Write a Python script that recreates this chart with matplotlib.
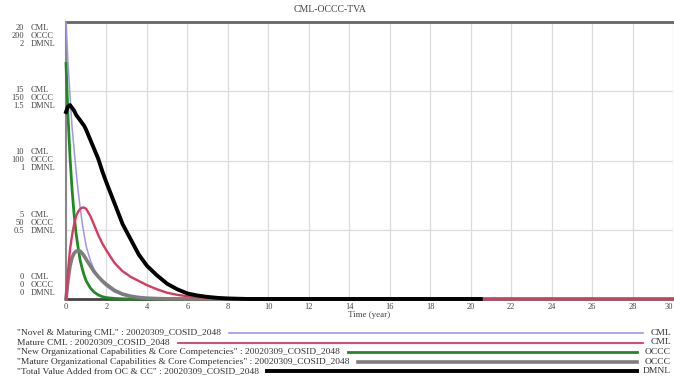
import matplotlib
matplotlib.use("Agg")
import matplotlib.pyplot as plt
from matplotlib.lines import Line2D

# Simulation output (Time in years)
years = [0, 0.1, 0.2, 0.3, 0.4, 0.5, 0.6, 0.7, 0.8, 0.9,
         1.0, 1.2, 1.4, 1.6, 1.8, 2.0, 2.4, 2.8, 3.2, 3.6,
         4.0, 4.5, 5.0, 5.5, 6.0, 6.5, 7.0, 7.5, 8.0, 9.0,
         10, 12, 14, 16, 18, 20, 20.5, 22, 24, 26, 28, 30]

# Novel & Maturing CML (CML)
novel_maturing_cml = [20, 17.0, 14.6, 12.4, 10.8, 9.2, 7.8, 6.6, 5.5, 4.6,
                      3.8, 2.8, 2.1, 1.6, 1.2, 0.9, 0.5, 0.28, 0.15, 0.08,
                      0.04, 0.02, 0.01, 0.005, 0, 0, 0, 0, 0, 0,
                      0, 0, 0, 0, 0, 0, 0, 0, 0, 0, 0, 0]

# Mature CML (CML)
mature_cml = [0, 2.0, 3.6, 4.6, 5.4, 6.0, 6.3, 6.5, 6.6, 6.6,
              6.5, 6.0, 5.3, 4.6, 4.0, 3.5, 2.6, 2.0, 1.6, 1.3,
              1.0, 0.7, 0.45, 0.3, 0.2, 0.13, 0.08, 0.05, 0.03, 0.01,
              0, 0, 0, 0, 0, 0, 0, 0, 0, 0, 0, 0]

# New Organizational Capabilities & Core Competencies (OCCC)
new_occc = [170, 132, 102, 79, 61, 47, 37, 28, 22, 17,
            13, 8, 4.8, 2.9, 1.7, 1.0, 0.4, 0.14, 0.05, 0.02,
            0, 0, 0, 0, 0, 0, 0, 0, 0, 0,
            0, 0, 0, 0, 0, 0, 0, 0, 0, 0, 0, 0]

# Mature Organizational Capabilities & Core Competencies (OCCC)
mature_occc = [0, 14, 24, 30, 33, 34.5, 35, 34.5, 33, 31,
               28.5, 24, 19.5, 16, 13, 10.5, 6.2, 3.5, 2.0, 1.1,
               0.6, 0.3, 0.15, 0.08, 0.04, 0.02, 0, 0, 0, 0,
               0, 0, 0, 0, 0, 0, 0, 0, 0, 0, 0, 0]

# Total Value Added from OC & CC (DMNL), recorded up to t = 20.5
total_value_added = [1.35, 1.39, 1.40, 1.38, 1.36, 1.33, 1.31, 1.29, 1.27, 1.25,
                     1.22, 1.15, 1.08, 1.01, 0.92, 0.84, 0.69, 0.54, 0.43, 0.32,
                     0.24, 0.17, 0.11, 0.07, 0.04, 0.025, 0.015, 0.008, 0.004, 0,
                     0, 0, 0, 0, 0, 0, 0]

# Axis scales for each unit
cml_ticks = [0, 5, 10, 15, 20]
occc_ticks = [0, 50, 100, 150, 200]
dmnl_ticks = ["0", "0.5", "1", "1.5", "2"]
x_ticks = list(range(0, 31, 2))

legend_labels = [
    '"Novel & Maturing CML" : 20020309_COSID_2048',
    'Mature CML : 20020309_COSID_2048',
    '"New Organizational Capabilities & Core Competencies" : 20020309_COSID_2048',
    '"Mature Organizational Capabilities & Core Competencies" : 20020309_COSID_2048',
    '"Total Value Added from OC & CC" : 20020309_COSID_2048',
]
legend_units = ["CML", "CML", "OCCC", "OCCC", "DMNL"]

FONT = "Liberation Serif"
W, H = 674, 387
fig = plt.figure(figsize=(W / 100, H / 100), dpi=100)
fig.patch.set_facecolor("white")

ax = fig.add_axes([66 / W, 1 - 299 / H, 607 / W, 277 / H])
ax_occc = ax.twinx()
ax_cml_mature = ax.twinx()
ax_dmnl = ax.twinx()

ax.set_xlim(0, 30)
ax.set_ylim(0, cml_ticks[-1])
ax_cml_mature.set_ylim(0, cml_ticks[-1])
ax_occc.set_ylim(0, occc_ticks[-1])
ax_dmnl.set_ylim(0, float(dmnl_ticks[-1]))

for a in (ax_occc, ax_cml_mature, ax_dmnl):
    a.set_yticks([])
    for s in a.spines.values():
        s.set_visible(False)

ax.set_xticks(x_ticks)
tick_labels = ax.set_xticklabels([str(v) for v in x_ticks], fontsize=6, family=FONT, color="#444444")
tick_labels[-1].set_horizontalalignment("right")
ax.set_yticks(cml_ticks)
ax.set_yticklabels([])
ax.tick_params(axis="both", length=0, pad=3)
ax.grid(True, color="#dcdcdc", linewidth=0.9)
ax.set_axisbelow(True)
ax.spines["right"].set_visible(False)
ax.spines["top"].set_color("#666666")
ax.spines["top"].set_linewidth(2)
ax.spines["left"].set_color("#888888")
ax.spines["left"].set_linewidth(1.5)
ax.spines["bottom"].set_color("#444444")
ax.spines["bottom"].set_linewidth(2)
ax.set_xlabel("Time (year)", fontsize=6.5, family=FONT, color="#444444", labelpad=0)

series_style = [
    ("#a395e3", 1.1),
    ("#d63a60", 1.3),
    ("#1f8a24", 2.0),
    ("#7d7d7d", 2.6),
    ("#000000", 2.8),
]

ax.plot(years, novel_maturing_cml, color=series_style[0][0], lw=series_style[0][1],
        zorder=3, clip_on=False)
ax_occc.plot(years, new_occc, color=series_style[2][0], lw=series_style[2][1],
             zorder=3, clip_on=False)
ax_occc.plot(years, mature_occc, color=series_style[3][0], lw=series_style[3][1],
             zorder=3, clip_on=False)
ax_cml_mature.plot(years, mature_cml, color=series_style[1][0], lw=series_style[1][1] + 0.4,
                   zorder=3, clip_on=False)
ax_dmnl.plot(years[:len(total_value_added)], total_value_added,
             color=series_style[4][0], lw=series_style[4][1], zorder=3, clip_on=False)

# Stacked y-axis labels: value right-aligned, unit left-aligned
for i in range(5):
    yf = 0.05 + 0.225 * i
    rows = [(str(cml_ticks[i]), "CML"), (str(occc_ticks[i]), "OCCC"), (dmnl_ticks[i], "DMNL")]
    for j, (num, unit) in enumerate(rows):
        dy = (1 - j) * 8 / 277
        ax.text(-42 / 607, yf + dy, num, transform=ax.transAxes, ha="right", va="center",
                fontsize=6, family=FONT, color="#444444")
        ax.text(-35 / 607, yf + dy, unit, transform=ax.transAxes, ha="left", va="center",
                fontsize=6, family=FONT, color="#444444")

fig.text(330 / W, 1 - 10 / H, "CML-OCCC-TVA", ha="center", va="center",
         fontsize=7, family=FONT, color="#444444")

# Legend rows below the plot
row_y = [333, 342.5, 352, 361.5, 371]
line_end = [643, 643, 637, 637, 637]
fig.canvas.draw()
renderer = fig.canvas.get_renderer()
for label, unit, y, x_end, (color, lw) in zip(legend_labels, legend_units, row_y, line_end, series_style):
    t = fig.text(17 / W, 1 - y / H, label, ha="left", va="center",
                 fontsize=6.8, family=FONT, color="#333333")
    bb = t.get_window_extent(renderer)
    x0 = (bb.x1 + 8) / W
    fig.add_artist(Line2D([x0, x_end / W], [1 - y / H, 1 - y / H], transform=fig.transFigure,
                          color=color, lw=max(lw, 1.2)))
    fig.text(671 / W, 1 - y / H, unit, ha="right", va="center",
             fontsize=6.8, family=FONT, color="#333333")

fig.savefig("out.png", dpi=100, facecolor="white")
